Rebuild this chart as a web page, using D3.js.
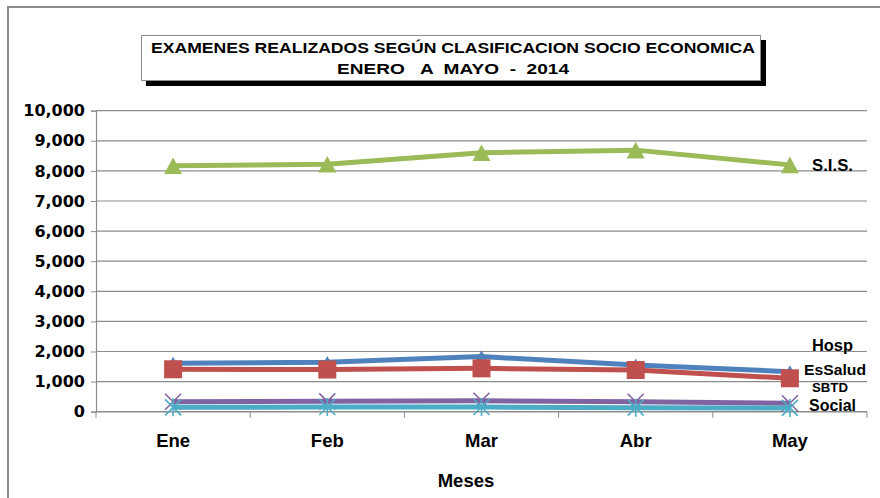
<!DOCTYPE html>
<html>
<head>
<meta charset="utf-8">
<script src="https://cdn.jsdelivr.net/npm/d3@7.9.0/dist/d3.min.js"></script>
<style>
  body { margin: 0; background: #fff; }
  svg { display: block; }
</style>
</head>
<body>
<svg id="chart" width="880" height="498"></svg>
<script>
// datos
const months = ['Ene', 'Feb', 'Mar', 'Abr', 'May'];
const yTicks = [0, 1000, 2000, 3000, 4000, 5000, 6000, 7000, 8000, 9000, 10000];

const sis     = [8170, 8220, 8600, 8690, 8200];
const hosp    = [1610, 1640, 1830, 1550, 1330];
const essalud = [1410, 1400, 1440, 1385, 1110];
const sbtd    = [330, 345, 365, 330, 280];
const social  = [145, 155, 155, 135, 125];

const titleLines = ['EXAMENES REALIZADOS SEGÚN CLASIFICACION SOCIO ECONOMICA', 'ENERO   A  MAYO  -  2014'];

const series = [
  { name: 'SBTD', values: sbtd, color: '#8064a2', marker: 'x' },
  { name: 'Social', values: social, color: '#4bacc6', marker: 'star' },
  { name: 'Hosp', values: hosp, color: '#4f81bd', marker: 'triangle', size: 14 },
  { name: 'EsSalud', values: essalud, color: '#c0504d', marker: 'square' },
  { name: 'S.I.S.', values: sis, color: '#9bbb59', marker: 'triangle', size: 18 },
];

// etiquetas al lado derecho
const labels = [
  { text: 'S.I.S.', x: 812, y: 171, size: 16, w: 41 },
  { text: 'Hosp', x: 812, y: 351, size: 16, w: 41 },
  { text: 'EsSalud', x: 804, y: 374.5, size: 15.5, w: 62 },
  { text: 'SBTD', x: 812, y: 391.5, size: 13.5, w: 36 },
  { text: 'Social', x: 809, y: 411, size: 16, w: 47 },
];

const svg = d3.select('#chart');
const font = '"Liberation Sans", Arial, sans-serif';

// marco exterior
svg.append('rect')
  .attr('x', 8).attr('y', 7)
  .attr('width', 900).attr('height', 520)
  .attr('fill', 'none')
  .attr('stroke', '#8c8c8c')
  .attr('stroke-width', 2);

const area = { left: 96, right: 867, top: 110.7, bottom: 411.7 };

const x = d3.scalePoint()
  .domain(months)
  .range([area.left, area.right])
  .padding(0.5);

const y = d3.scaleLinear()
  .domain([0, 10000])
  .range([area.bottom, area.top]);

// lineas de cuadricula
svg.append('g')
  .selectAll('line')
  .data(yTicks.slice(1))
  .join('line')
  .attr('x1', area.left).attr('x2', area.right)
  .attr('y1', d => y(d)).attr('y2', d => y(d))
  .attr('stroke', '#8c8c8c')
  .attr('stroke-width', 1.2);

// eje Y
const yAxis = svg.append('g')
  .attr('transform', `translate(${area.left},0)`)
  .call(d3.axisLeft(y).tickValues(yTicks).tickFormat(d3.format(',')).tickSize(5).tickPadding(6));
yAxis.select('.domain').attr('stroke', '#8c8c8c').attr('stroke-width', 1.2);
yAxis.selectAll('.tick line').attr('stroke', '#8c8c8c');
yAxis.selectAll('text')
  .attr('font-family', '"DejaVu Sans", Verdana, sans-serif')
  .attr('font-weight', 'bold')
  .attr('font-size', 16)
  .attr('fill', '#000');

// eje X
const step = x.step();
const xAxis = svg.append('g')
  .attr('transform', `translate(0,${area.bottom})`);
xAxis.append('line')
  .attr('x1', area.left).attr('x2', area.right)
  .attr('stroke', '#8c8c8c').attr('stroke-width', 1.5);
xAxis.selectAll('line.tk')
  .data(d3.range(months.length + 1))
  .join('line')
  .attr('class', 'tk')
  .attr('x1', i => area.left + i * step).attr('x2', i => area.left + i * step)
  .attr('y1', 0).attr('y2', 6)
  .attr('stroke', '#8c8c8c');
xAxis.selectAll('text')
  .data(months)
  .join('text')
  .attr('x', d => x(d))
  .attr('y', 35.5)
  .attr('text-anchor', 'middle')
  .attr('font-family', font)
  .attr('font-weight', 'bold')
  .attr('font-size', 18.5)
  .text(d => d);

svg.append('text')
  .attr('x', 466).attr('y', 487)
  .attr('text-anchor', 'middle')
  .attr('font-family', font)
  .attr('font-weight', 'bold')
  .attr('font-size', 18.5)
  .text('Meses');

// lineas y marcadores
const line = d3.line()
  .x((d, i) => x(months[i]))
  .y(d => y(d));

function drawMarker(g, s) {
  g.each(function (d, i) {
    const sel = d3.select(this);
    const cx = x(months[i]), cy = y(d);
    if (s.marker === 'triangle') {
      const w = s.size, h = s.size * 0.92;
      sel.append('path')
        .attr('d', `M${cx},${cy - h / 2}L${cx + w / 2},${cy + h / 2}L${cx - w / 2},${cy + h / 2}Z`)
        .attr('fill', s.color);
    } else if (s.marker === 'square') {
      sel.append('rect')
        .attr('x', cx - 9).attr('y', cy - 9)
        .attr('width', 18).attr('height', 18)
        .attr('fill', s.color);
    } else if (s.marker === 'x') {
      sel.append('path')
        .attr('d', `M${cx - 8},${cy - 8}L${cx + 8},${cy + 8}M${cx - 8},${cy + 8}L${cx + 8},${cy - 8}`)
        .attr('stroke', s.color).attr('stroke-width', 1.6);
    } else {
      sel.append('path')
        .attr('d', `M${cx - 8},${cy - 8}L${cx + 8},${cy + 8}M${cx - 8},${cy + 8}L${cx + 8},${cy - 8}M${cx},${cy - 9}L${cx},${cy + 9}`)
        .attr('stroke', s.color).attr('stroke-width', 1.6);
    }
  });
}

series.forEach(s => {
  svg.append('path')
    .datum(s.values)
    .attr('d', line)
    .attr('fill', 'none')
    .attr('stroke', s.color)
    .attr('stroke-width', 5)
    .attr('stroke-linejoin', 'round');
  svg.append('g')
    .selectAll('g')
    .data(s.values)
    .join('g')
    .call(g => drawMarker(g, s));
});

svg.append('g')
  .selectAll('text')
  .data(labels)
  .join('text')
  .attr('x', d => d.x).attr('y', d => d.y)
  .attr('font-family', font)
  .attr('font-weight', 'bold')
  .attr('font-size', d => d.size)
  .attr('textLength', d => d.w)
  .attr('lengthAdjust', 'spacingAndGlyphs')
  .text(d => d.text);

// cuadro de titulo
svg.append('rect')
  .attr('x', 146).attr('y', 40)
  .attr('width', 620).attr('height', 46)
  .attr('fill', '#000');
svg.append('rect')
  .attr('x', 141.5).attr('y', 35.5)
  .attr('width', 619).attr('height', 45)
  .attr('fill', '#fff')
  .attr('stroke', '#8c8c8c');
svg.append('g')
  .selectAll('text')
  .data(titleLines)
  .join('text')
  .attr('x', 453)
  .attr('y', (d, i) => 53 + i * 21)
  .attr('text-anchor', 'middle')
  .attr('font-family', font)
  .attr('font-weight', 'bold')
  .attr('font-size', 14.5)
  .attr('textLength', (d, i) => i === 0 ? 604 : 232)
  .attr('lengthAdjust', 'spacingAndGlyphs')
  .attr('xml:space', 'preserve')
  .style('white-space', 'pre')
  .text(d => d);
</script>
</body>
</html>
